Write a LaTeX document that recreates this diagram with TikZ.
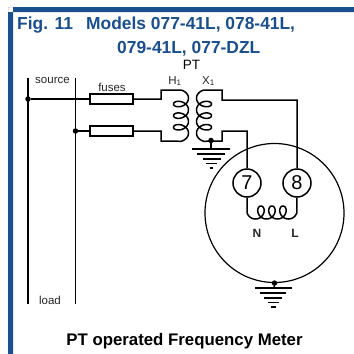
\documentclass[tikz,border=0pt]{standalone}
\usepackage{fontspec}
\setmainfont{Liberation Sans}
\definecolor{frameblue}{HTML}{1A4F8F}
\tikzset{
  wire/.style={line width=1.5pt,line join=miter},
  lbl/.style={inner sep=0pt,font=\fontsize{11.5}{11.5}\selectfont,text=black!85},
  titlef/.style={inner sep=0pt,anchor=base west,text=frameblue,font=\fontsize{17.4}{17.4}\selectfont\bfseries},
  fusebox/.style={draw,line width=1.5pt,minimum width=43pt,minimum height=10pt,inner sep=0pt},
  termc/.style={draw,circle,line width=1.5pt,minimum size=28pt,inner sep=0pt,font=\fontsize{20}{20}\selectfont},
  dotn/.style={circle,fill=black,minimum size=5.5pt,inner sep=0pt},
  gbar/.style={line width=1.5pt}
}
\begin{document}
\begin{tikzpicture}[x=1pt,y=-1pt]
\useasboundingbox (0,0) rectangle (354,354);
\fill[frameblue] (8,354) rectangle (13,7) (8,7) rectangle (354,12);
\node[titlef] at (17,29) {Fig. 11};
\node[titlef] at (86,29) {Models 077-41L, 078-41L,};
\node[titlef] at (117,53) {079-41L, 077-DZL};
\node[inner sep=0pt,font=\fontsize{13.5}{13.5}\selectfont] at (191.5,65) {PT};
\node[lbl] at (52.5,80) {source};
\node[lbl] at (112,87) {fuses};
\node[lbl] at (175,81) {H\textsubscript{1}};
\node[lbl] at (208.5,81) {X\textsubscript{1}};
\node[lbl] at (50,300) {load};
\node[lbl,font=\fontsize{12}{12}\selectfont\bfseries] at (257,233) {N};
\node[lbl,font=\fontsize{12}{12}\selectfont\bfseries] at (295,233) {L};
\node[inner sep=0pt,font=\fontsize{16.8}{17}\selectfont\bfseries] at (184.5,341) {PT operated Frequency Meter};
% buses
\coordinate (b1t) at (28,78); \coordinate (b1b) at (28,304);
\coordinate (b2t) at (75.5,78); \coordinate (b2b) at (75.5,304);
\draw[wire] (b1t) -- (b1b);
\draw[wire] (b2t) -- (b2b);
\node[dotn] (d1) at (28,99) {};
\node[dotn] (d2) at (75.5,131) {};
\node[fusebox] (f1) at (111.5,99) {};
\node[fusebox] (f2) at (111.5,131) {};
\draw[wire] (d1) -- (f1.west);
\draw[wire] (d2) -- (f2.west);
% primary
\draw[wire] (f1.east) -- (161,99) -- (161,90) -- (181,90)
  plot[smooth,domain=-90:1170,samples=170] ({181+7.5*cos(\x)},{95.3+1.85*(\x+90)*pi/180+5.3*sin(\x)})
  -- (161,141) -- (161,131) -- (f2.east);
% secondary
\node[dotn] (gd1) at (211,140.5) {};
\coordinate (g1) at (211,149);
\node[termc] (t7) at (247,183) {7};
\node[termc] (t8) at (297,183) {8};
\draw[wire] (t8.north) -- (297,100) -- (222,100) -- (222,90) -- (204,90)
  plot[smooth,domain=-90:1170,samples=170] ({204-7.5*cos(\x)},{95.3+1.85*(\x+90)*pi/180+5.3*sin(\x)})
  -- (222,141) -- (222,131) -- (247,131) -- (t7.north);
\draw[wire] (gd1) -- (g1);
\draw[gbar] (192,149) -- (230,149) (197,154) -- (225,154) (203,159) -- (221,159) (206,163.5) -- (217,163.5) (210,168) -- (213,168);
% meter
\node[draw,circle,line width=1.2pt,minimum size=139pt,inner sep=0pt] (m) at (274.5,213) {};
\draw[wire] (t7.south) -- (247,212.5)
  plot[smooth,domain=-90:1170,samples=170] ({247+1.75*(\x+90)*pi/180+5.7*sin(\x)+5.7},{212.5+6.5*cos(\x)})
  -- (t8.south);
\node[dotn] (gd2) at (m.south) {};
\coordinate (g2) at (274,288);
\draw[wire] (gd2) -- (g2);
\draw[gbar] (255,288) -- (292,288) (260,293) -- (286,293) (264,298) -- (282,298) (268,302.5) -- (279,302.5) (271,307) -- (276,307);
\end{tikzpicture}
\end{document}
